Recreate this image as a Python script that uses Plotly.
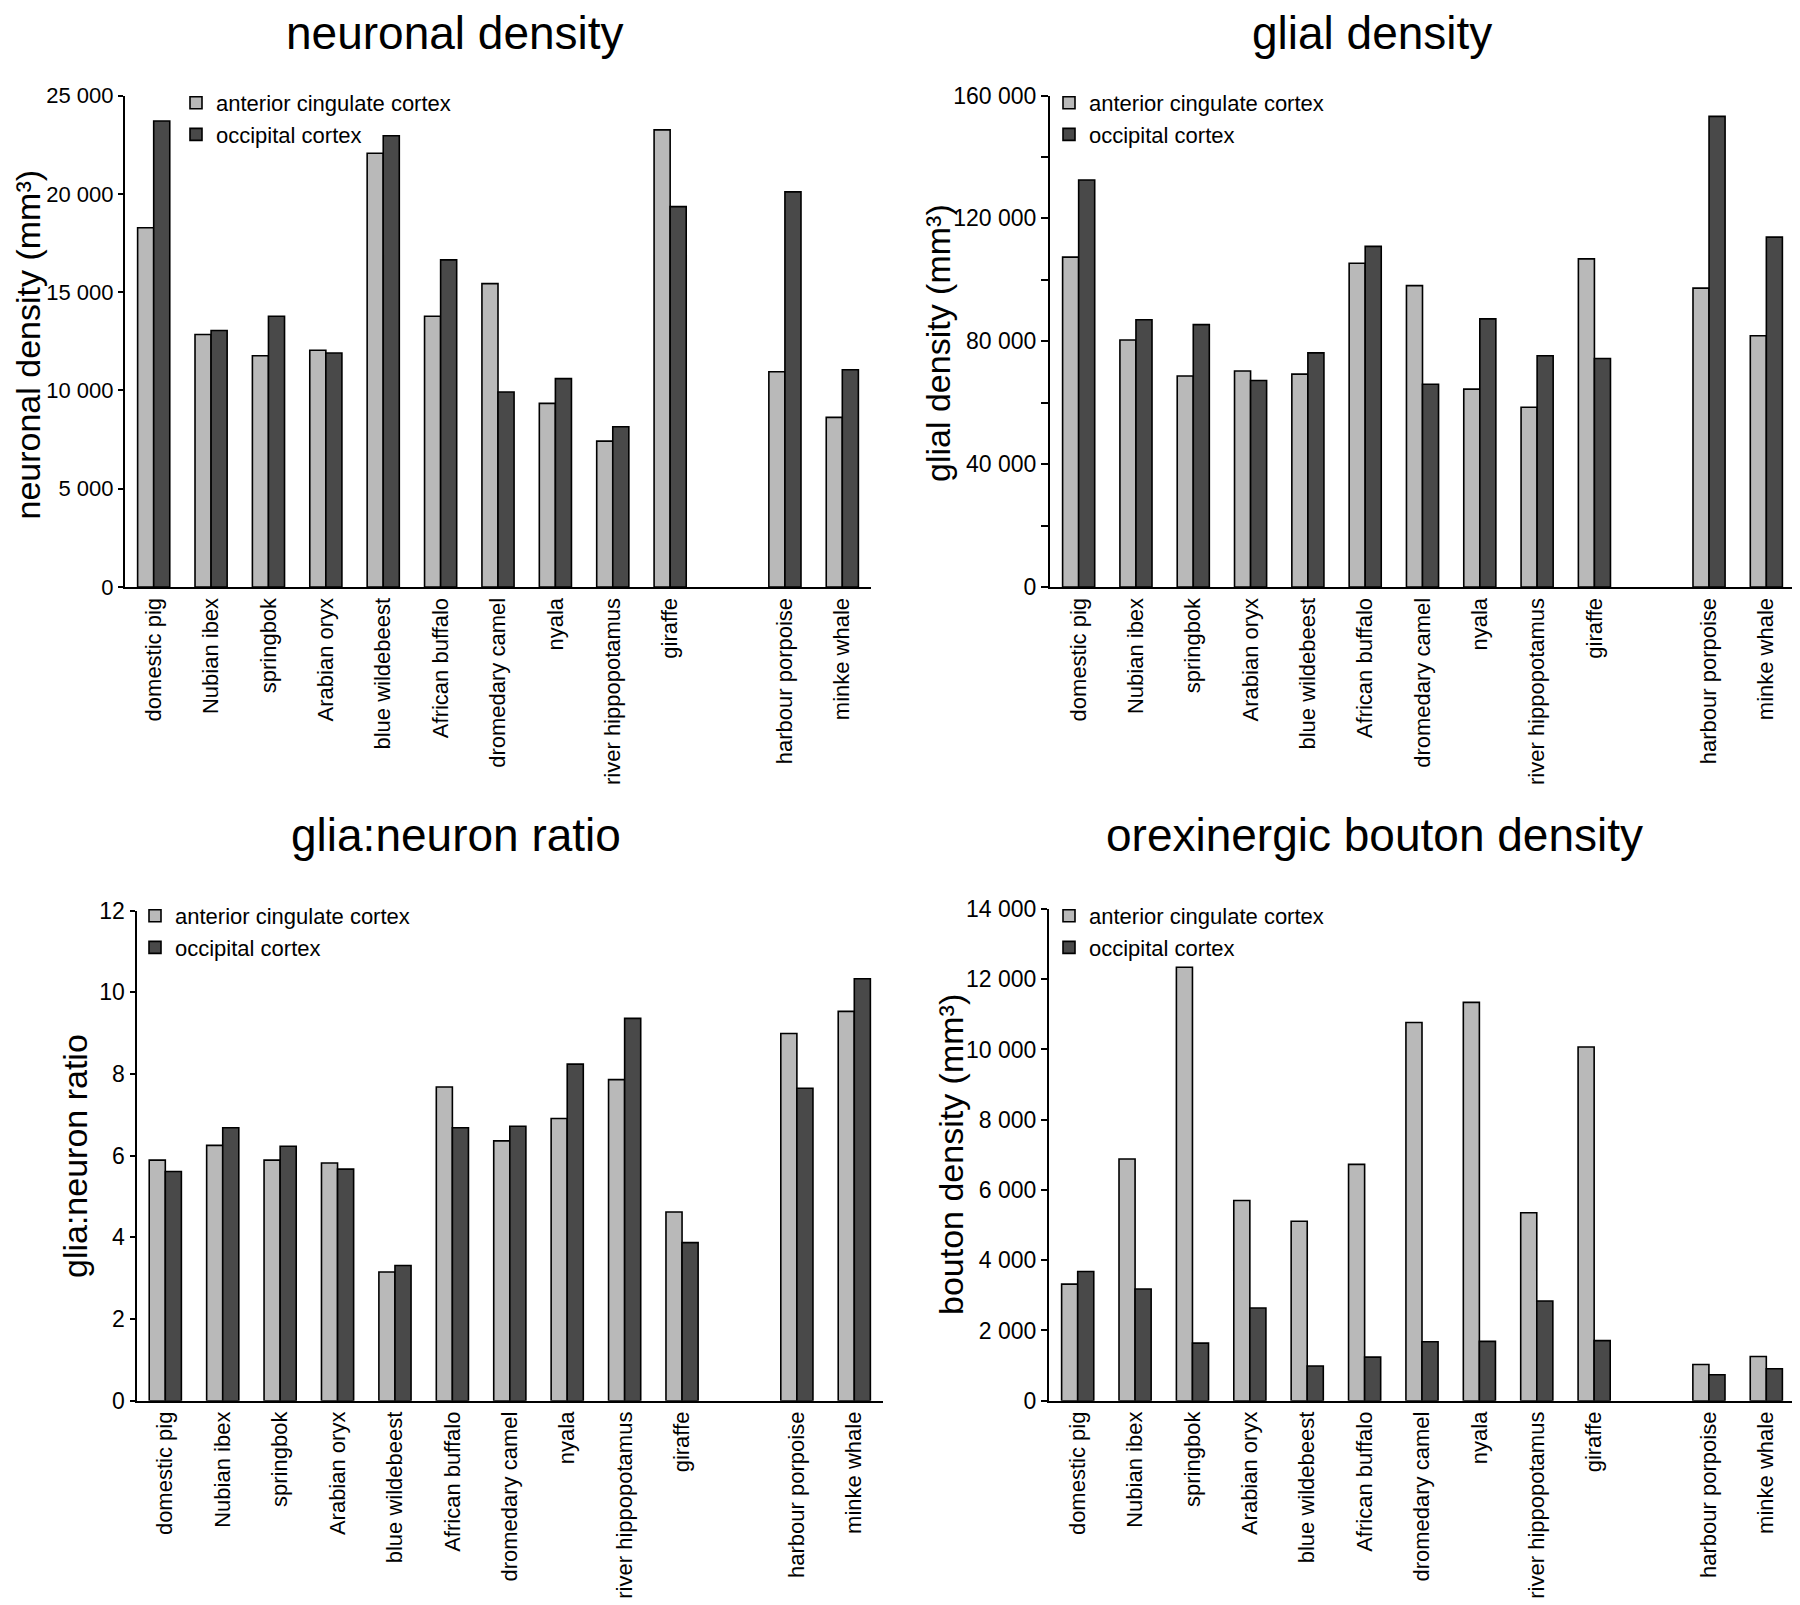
import plotly.graph_objects as go

# The page body adds an 8 px margin; the figure is sized so that page == window.
OFF = 8
W, H = 1800 - OFF, 1605 - OFF

categories = ["domestic pig", "Nubian ibex", "springbok", "Arabian oryx", "blue wildebeest",
              "African buffalo", "dromedary camel", "nyala", "river hippopotamus", "giraffe",
              "harbour porpoise", "minke whale"]
# empty slot between terrestrial species and cetaceans
category_order = categories[:10] + [" "] + categories[10:]

series_names = ["anterior cingulate cortex", "occipital cortex"]

neuronal_acc = [18270, 12840, 11760, 12040, 22060, 13770, 15430, 9340, 7420, 23250, 10950, 8630]
neuronal_occ = [23700, 13050, 13770, 11900, 22950, 16640, 9920, 10600, 8150, 19350, 20100, 11050]

glial_acc = [107400, 80400, 68700, 70300, 69300, 105400, 98100, 64400, 58500, 106800, 97300, 81800]
glial_occ = [132500, 87000, 85400, 67200, 76200, 110900, 66000, 87300, 75300, 74400, 153200, 113900]

ratio_acc = [5.89, 6.25, 5.89, 5.82, 3.15, 7.68, 6.36, 6.91, 7.86, 4.62, 8.99, 9.53]
ratio_occ = [5.61, 6.68, 6.23, 5.67, 3.31, 6.68, 6.72, 8.24, 9.36, 3.87, 7.65, 10.33]

bouton_acc = [3320, 6880, 12340, 5700, 5110, 6730, 10770, 11340, 5350, 10070, 1030, 1260]
bouton_occ = [3680, 3180, 1640, 2640, 990, 1240, 1680, 1690, 2840, 1710, 740, 910]

panel_titles = ["neuronal density", "glial density", "glia:neuron ratio", "orexinergic bouton density"]
y_titles = ["neuronal density (mm³)", "glial density (mm³)", "glia:neuron ratio", "bouton density (mm³)"]

FONT = "Liberation Sans, Arial, Helvetica, sans-serif"
LIGHT = "#b9b9b9"
DARK = "#494949"

def px(x):
    return (x - OFF) / W

def py(y):
    return 1 - (y - OFF) / H

# panel geometry (page pixels): x-left, x-right, y of top value, y of zero
panels = [
    dict(x0=125, x1=871, ytop=95.5, ybot=587, ymax=25000, dtick=5000, minor=None, tl=5, tf=22,
         acc=neuronal_acc, occ=neuronal_occ, leg=(176, 82), ytx=27.5, yty=345, tx=455, ty=33.5),
    dict(x0=1050, x1=1795, ytop=95.5, ybot=587, ymax=160000, dtick=40000, minor=20000, tl=7, tf=23,
         acc=glial_acc, occ=glial_occ, leg=(1049, 82), ytx=938, yty=343, tx=1372, ty=33.5),
    dict(x0=136.6, x1=883, ytop=910.5, ybot=1400.7, ymax=12, dtick=2, minor=None, tl=5, tf=23,
         acc=ratio_acc, occ=ratio_occ, leg=(135, 895), ytx=75, yty=1156, tx=456, ty=835),
    dict(x0=1049, x1=1795, ytop=909, ybot=1400.7, ymax=14000, dtick=2000, minor=None, tl=6, tf=23,
         acc=bouton_acc, occ=bouton_occ, leg=(1049, 895), ytx=951, yty=1155, tx=1374, ty=835),
]

fig = go.Figure()
layout = dict(
    width=W, height=H, margin=dict(l=0, r=0, t=0, b=0, pad=0, autoexpand=False),
    paper_bgcolor="white", plot_bgcolor="white",
    font=dict(family=FONT, color="black", size=22),
    barmode="group", bargap=0.44, bargroupgap=0.0,
    separators=". ",
    annotations=[],
)

for i, p in enumerate(panels):
    n = "" if i == 0 else str(i + 1)
    xa, ya = "x" + n, "y" + n
    lg = "legend" + n
    for name, vals, col in ((series_names[0], p["acc"], LIGHT), (series_names[1], p["occ"], DARK)):
        fig.add_trace(go.Bar(
            x=categories, y=vals, name=name, xaxis=xa, yaxis=ya,
            marker=dict(color=col, line=dict(color="black", width=1.6)),
            legend=lg, showlegend=True,
        ))
    yaxis = dict(
        domain=[py(p["ybot"]), py(p["ytop"])], anchor=xa, range=[0, p["ymax"]],
        showline=True, linecolor="black", linewidth=2.2,
        ticks="outside", ticklen=p["tl"], tickwidth=2, tickcolor="black",
        dtick=p["dtick"], tick0=0, tickformat=",d",
        tickfont=dict(size=p["tf"], family=FONT), showgrid=False, zeroline=False,
        automargin=False,
    )
    if p["minor"]:
        yaxis["minor"] = dict(dtick=p["minor"], tick0=0, ticks="outside", ticklen=p["tl"],
                              tickwidth=2, tickcolor="black", showgrid=False)
    xaxis = dict(
        domain=[px(p["x0"]), px(p["x1"])], anchor=ya,
        type="category", categoryorder="array", categoryarray=category_order,
        range=[-0.5, 12.5],
        showline=True, linecolor="black", linewidth=2.2,
        ticks="", tickangle=-90, tickfont=dict(size=22, family=FONT),
        showgrid=False, zeroline=False, automargin=False,
    )
    layout["xaxis" + n] = xaxis
    layout["yaxis" + n] = yaxis
    layout[lg] = dict(
        x=px(p["leg"][0]), y=py(p["leg"][1]), xanchor="left", yanchor="top",
        bgcolor="rgba(0,0,0,0)", borderwidth=0, font=dict(size=22, family=FONT),
        tracegroupgap=0, itemwidth=30,
    )
    layout["annotations"].append(dict(
        text=panel_titles[i], x=px(p["tx"]), y=py(p["ty"]), xref="paper", yref="paper",
        xanchor="center", yanchor="middle", showarrow=False,
        font=dict(size=46, family=FONT, color="black"),
    ))
    layout["annotations"].append(dict(
        text=y_titles[i], x=px(p["ytx"]), y=py(p["yty"]), xref="paper", yref="paper",
        xanchor="center", yanchor="middle", showarrow=False, textangle=-90,
        font=dict(size=34, family=FONT, color="black"),
    ))

fig.update_layout(**layout)
fig.write_html("out.html")
